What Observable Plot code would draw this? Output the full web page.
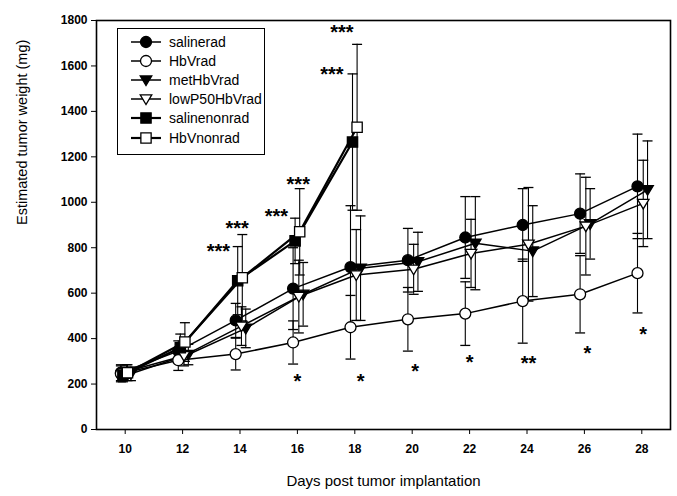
<!DOCTYPE html>
<html><head><meta charset="utf-8">
<script src="https://cdn.jsdelivr.net/npm/d3@7"></script>
<script src="https://cdn.jsdelivr.net/npm/@observablehq/plot@0.6"></script>
<style>
body{margin:0;background:#fff;font-family:"Liberation Sans",Arial,sans-serif;}
#wrap{position:relative;width:677px;height:496px;}
#legend{position:absolute;left:117px;top:28px;width:148px;height:127px;border:1.5px solid #000;background:#fff;box-sizing:border-box;padding-top:3px;}
.row{display:flex;align-items:center;height:19.2px;font-size:14px;color:#000;white-space:nowrap;}
.row svg{margin-left:12px;margin-right:7px;flex:none;}
</style></head><body><div id="wrap"><div id="legend"></div></div>
<script>
// ---- data ----
const days = [10, 12, 14, 16, 18, 20, 22, 24, 26, 28];
const nonradDays = [10, 12, 14, 16, 18];
const seriesNames = ["salinerad", "HbVrad", "metHbVrad", "lowP50HbVrad", "salinenonrad", "HbVnonrad"];

const salineradMean = [250, 345, 480, 620, 715, 745, 845, 900, 950, 1070];
const salineradSD   = [35, 45, 75, 180, 270, 140, 180, 160, 175, 230];
const hbvradMean    = [245, 305, 332, 383, 450, 485, 510, 565, 595, 688];
const hbvradSD      = [35, 45, 70, 95, 140, 140, 140, 185, 170, 175];
const methbvradMean = [245, 330, 445, 595, 710, 738, 820, 785, 905, 1055];
const methbvradSD   = [30, 45, 85, 140, 230, 130, 205, 200, 155, 215];
const lowp50Mean    = [255, 325, 455, 585, 680, 705, 775, 815, 895, 995];
const lowp50SD      = [30, 45, 85, 160, 200, 110, 150, 250, 215, 190];
const salinenonradMean = [240, 360, 655, 830, 1265];
const salinenonradSD   = [30, 60, 150, 100, 300];
const hbvnonradMean    = [250, 385, 668, 870, 1330];
const hbvnonradSD      = [35, 85, 190, 190, 365];

const starDays   = [13.25, 13.9, 15.27, 16.03, 17.2, 17.55, 16.0, 18.2, 20.1, 22.0, 24.05, 26.1, 28.05];
const starValues = [810, 911, 964, 1104, 1588, 1773, 238, 238, 282, 321, 317, 361, 444];
const starLabels = ["***", "***", "***", "***", "***", "***", "*", "*", "*", "*", "**", "*", "*"];

const yTicks = [0, 200, 400, 600, 800, 1000, 1200, 1400, 1600, 1800];
const xTicks = days;

// ---- styling (per series) ----
const dodge = [-0.15, -0.15, 0.2, 0.05, -0.08, 0.08];
const downTri = {draw(ctx, size){ const r = Math.sqrt(size/Math.PI); ctx.moveTo(-r*1.05, -r*0.75); ctx.lineTo(r*1.05, -r*0.75); ctx.lineTo(0, r*1.0); ctx.closePath(); }};
const capSym = {draw(ctx, size){ const r = Math.sqrt(size/Math.PI); ctx.moveTo(-r, 0); ctx.lineTo(r, 0); }};
const styles = [
  {symbol: "circle", fill: "black", r: 5.5, lw: 1.5},
  {symbol: "circle", fill: "white", r: 5.5, lw: 1.5},
  {symbol: downTri, fill: "black", r: 5.5, lw: 1.5},
  {symbol: downTri, fill: "white", r: 5.5, lw: 1.5},
  {symbol: "square", fill: "black", r: 5.8, lw: 2.2},
  {symbol: "square", fill: "white", r: 5.8, lw: 2.2}
];

const means = [salineradMean, hbvradMean, methbvradMean, lowp50Mean, salinenonradMean, hbvnonradMean];
const sds = [salineradSD, hbvradSD, methbvradSD, lowp50SD, salinenonradSD, hbvnonradSD];
const dayLists = [days, days, days, days, nonradDays, nonradDays];

const rows = [];
seriesNames.forEach((s, i) => {
  dayLists[i].forEach((d, j) => {
    rows.push({series: s, si: i, day: d, x: d + dodge[i], mean: means[i][j], sd: sds[i][j]});
  });
});
const stars = starDays.map((d, i) => ({x: d, y: starValues[i], label: starLabels[i]}));

const marks = [
  Plot.ruleX(rows, {x: "x", y1: d => d.mean - d.sd, y2: d => d.mean + d.sd, stroke: "black", strokeWidth: 1.1}),
  Plot.dot(rows, {x: "x", y: d => d.mean + d.sd, symbol: capSym, r: 5, stroke: "black", fill: "none", strokeWidth: 1.3}),
  Plot.dot(rows, {x: "x", y: d => d.mean - d.sd, symbol: capSym, r: 5, stroke: "black", fill: "none", strokeWidth: 1.3}),
];
seriesNames.forEach((s, i) => {
  const data = rows.filter(r => r.si === i);
  marks.push(Plot.line(data, {x: "x", y: "mean", stroke: "black", strokeWidth: styles[i].lw}));
});
seriesNames.forEach((s, i) => {
  const data = rows.filter(r => r.si === i);
  marks.push(Plot.dot(data, {x: "x", y: "mean", symbol: styles[i].symbol, r: styles[i].r, fill: styles[i].fill, stroke: "black", strokeWidth: 1.3}));
});
marks.push(
  Plot.text(stars, {x: "x", y: "y", text: "label", fontSize: 20, fontWeight: "bold", dy: 6, fill: "black"}),
  Plot.frame({stroke: "black", strokeWidth: 1.6}),
  Plot.axisY({ticks: yTicks, tickFormat: d => String(d), tickSize: 5, tickPadding: 4, label: null, fontSize: 12, fontWeight: "bold"}),
  Plot.axisX({ticks: xTicks, tickFormat: d => String(d), tickSize: 5, tickPadding: 10, label: null, fontSize: 12, fontWeight: "bold"}),
  Plot.text(["Days post tumor implantation"], {frameAnchor: "bottom", dy: 56, fontSize: 15, fontWeight: "normal", fill: "black"}),
  Plot.text(["Estimated tumor weight (mg)"], {frameAnchor: "left", rotate: -90, dx: -74, fontSize: 14.5, fontWeight: "normal", fill: "black"})
);

const chart = Plot.plot({
  width: 677, height: 496,
  marginTop: 20, marginBottom: 67, marginLeft: 96, marginRight: 7,
  x: {domain: [9, 29]},
  y: {domain: [0, 1800]},
  style: {fontFamily: '"Liberation Sans", Arial, sans-serif', background: "white", color: "black"},
  marks
});
document.getElementById("wrap").prepend(chart);

// legend
const leg = document.getElementById("legend");
seriesNames.forEach((s, i) => {
  const row = document.createElement("div");
  row.className = "row";
  const svg = d3.create("svg").attr("width", 32).attr("height", 14);
  svg.append("line").attr("x1", 1).attr("x2", 31).attr("y1", 7).attr("y2", 7).attr("stroke", "black").attr("stroke-width", styles[i].lw);
  const st = styles[i];
  const symType = st.symbol === "circle" ? d3.symbolCircle : st.symbol === "square" ? d3.symbolSquare : st.symbol;
  svg.append("path").attr("transform", "translate(16,7)")
    .attr("d", d3.symbol(symType, Math.PI * st.r * st.r)())
    .attr("fill", st.fill).attr("stroke", "black").attr("stroke-width", 1.3);
  row.appendChild(svg.node());
  const span = document.createElement("span");
  span.textContent = s;
  row.appendChild(span);
  leg.appendChild(row);
});
</script>
</body></html>
